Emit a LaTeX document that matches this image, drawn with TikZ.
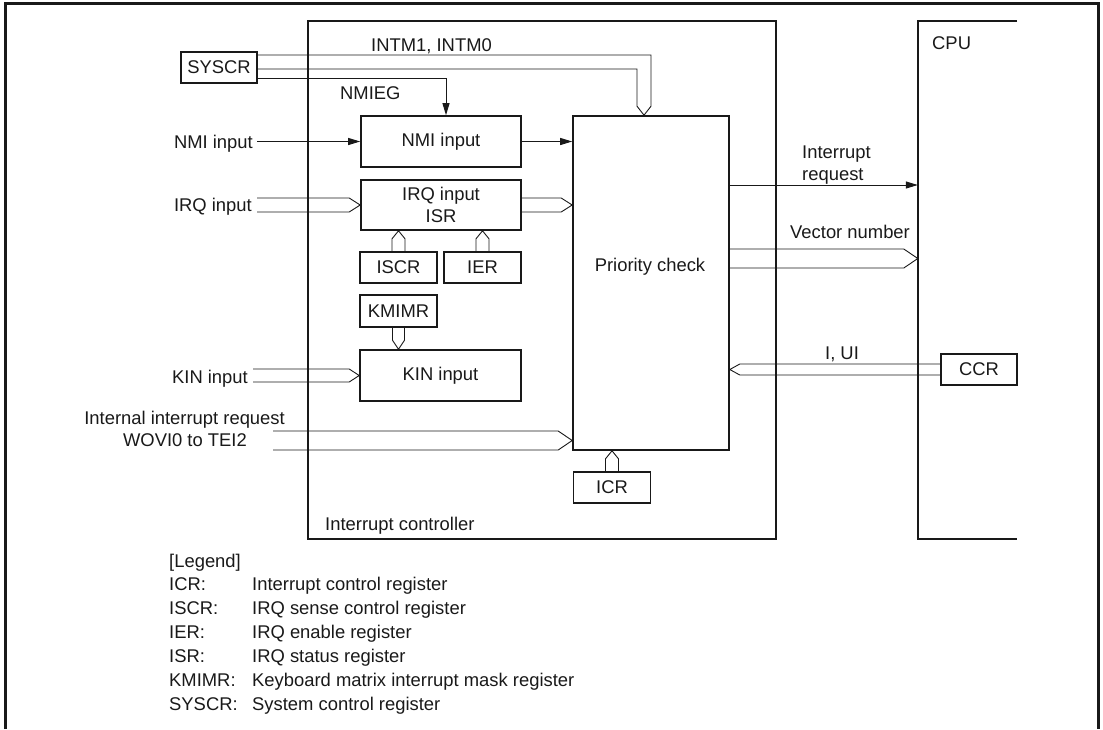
\documentclass[tikz,border=0pt]{standalone}
\usepackage{fontspec}
\setmainfont{Liberation Sans}
\usetikzlibrary{calc,arrows.meta}
\newcommand\busR[4]{\draw[bus] let \p1=(#1), \p2=(#2) in (\x1,\y2+#3) -- (\x2-#4,\y2+#3) -- (\x2,\y2) -- (\x2-#4,\y2-#3) -- (\x1,\y2-#3);}
\newcommand\busL[4]{\draw[bus] let \p1=(#1), \p2=(#2) in (\x1,\y2+#3) -- (\x2+#4,\y2+#3) -- (\x2,\y2) -- (\x2+#4,\y2-#3) -- (\x1,\y2-#3);}
\newcommand\busU[4]{\draw[bus] let \p1=(#1), \p2=(#2) in (\x2-#3,\y1) -- (\x2-#3,\y2-#4) -- (\x2,\y2) -- (\x2+#3,\y2-#4) -- (\x2+#3,\y1);}
\newcommand\busD[4]{\draw[bus] let \p1=(#1), \p2=(#2) in (\x2-#3,\y1) -- (\x2-#3,\y2+#4) -- (\x2,\y2) -- (\x2+#3,\y2+#4) -- (\x2+#3,\y1);}
\begin{document}
\begin{tikzpicture}[x=1pt,y=-1pt,
  every node/.style={font=\fontsize{18.4}{22}\selectfont, inner sep=0pt, text=black!90},
  box/.style={draw=black!90, line width=1.6pt, align=center},
  bus/.style={draw=black!90, line width=0.9pt, line join=miter},
  arr/.style={draw=black!90, line width=1pt, -{Triangle[length=12pt,width=7pt]}},
  lbl/.style={anchor=base west},
  rlbl/.style={anchor=base east}]
\useasboundingbox (0,0) rectangle (1103,729);
% outer frame
\draw[line width=3pt, black!90] (5,729) -- (5,3) -- (1098,3) -- (1098,729);
% helper coordinates
\coordinate (c446) at (446,0);
\coordinate (c644) at (644,0);
\coordinate (c185) at (0,185);
\coordinate (c258) at (0,258.5);
\coordinate (c440) at (0,440.5);
\coordinate (nmiin) at (257,141.5);
\coordinate (irqin) at (257,205);
\coordinate (kinin) at (253,375.5);
\coordinate (intin) at (273,440.5);
% interrupt controller
\node[box, minimum width=468pt, minimum height=518pt] (ctrl) at (542,280) {};
\node[lbl] (ctrllbl) at (325,530.5) {Interrupt controller};
% CPU
\node[minimum width=99pt, minimum height=518pt] (cpu) at (967.5,280) {};
\draw[line width=1.6pt, black!90] (cpu.north east) -- (cpu.north west) -- (cpu.south west) -- (cpu.south east);
\node[lbl] (cpulbl) at (932,49.5) {CPU};
% boxes
\node[box, minimum width=76pt, minimum height=31pt] (syscr) at (219,67.5) {SYSCR};
\node[box, minimum width=160pt, minimum height=51pt] (nmi) at (441,141.5) {NMI input};
\node[box, minimum width=160pt, minimum height=50pt] (irq) at (441,205) {IRQ input\\ISR};
\node[box, minimum width=77pt, minimum height=31pt] (iscr) at (398.5,267.5) {ISCR};
\node[box, minimum width=77pt, minimum height=31pt] (ier) at (482.5,267.5) {IER};
\node[box, minimum width=77pt, minimum height=32pt] (kmimr) at (398.5,311) {KMIMR};
\node[box, minimum width=161pt, minimum height=51pt] (kin) at (440.5,375.5) {KIN input};
\node[box, minimum width=156pt, minimum height=334pt] (prio) at (651,283) {};
\node (priolbl) at (650,267) {Priority check};
\node[box, minimum width=77pt, minimum height=31pt] (icr) at (612,487.5) {ICR};
\node[box, minimum width=76pt, minimum height=31pt] (ccr) at (979,369.5) {CCR};
% left labels
\node[rlbl] (nmilbl) at (253,148) {NMI input};
\node[rlbl] (irqlbl) at (252,211.5) {IRQ input};
\node[rlbl] (kinlbl) at (248,383) {KIN input};
\node[rlbl] (intlbl1) at (285,424.5) {Internal interrupt request};
\node[rlbl] (intlbl2) at (247,446.5) {WOVI0 to TEI2};
% SYSCR connections
\node[lbl] (intmlbl) at (371,51.5) {INTM1, INTM0};
\node[lbl] (nmieglbl) at (340,99.5) {NMIEG};
\draw[bus] let \p1=(syscr.east), \p2=(prio.north -| c644) in
  (\x1,\y1+12.5pt) -- (\x2+7pt,\y1+12.5pt) -- (\x2+7pt,\y2+9pt) -- (\x2,\y2)
  -- (\x2-7pt,\y2+9pt) -- (\x2-7pt,\y1-1.5pt) -- (\x1,\y1-1.5pt);
\draw[arr] let \p1=(syscr.east), \p2=(nmi.north -| c446) in
  (\x1,\y1-10.5pt) -- (\x2,\y1-10.5pt) -- (\x2,\y2);
% inputs
\draw[arr] (nmiin) -- (nmi.west);
\draw[arr] (nmi.east) -- (nmi.east -| prio.west);
\busR{irqin}{irq.west}{7pt}{11pt}
\busR{irq.east}{irq.east -| prio.west}{7pt}{11pt}
\busU{iscr.north}{irq.south -| iscr.north}{6.5pt}{8pt}
\busU{ier.north}{irq.south -| ier.north}{6.5pt}{8pt}
\busD{kmimr.south}{kin.north -| kmimr.south}{6pt}{9pt}
\busR{kinin}{kin.west}{6.5pt}{10pt}
\busR{intin}{prio.west |- c440}{9.5pt}{14pt}
\busU{icr.north}{prio.south -| icr.north}{6.5pt}{8pt}
% outputs to CPU
\node[lbl, align=left] (irqreq) at (802,180) {Interrupt\\request};
\draw[arr] (prio.east |- c185) -- (cpu.west |- c185);
\node[lbl] (veclbl) at (790,238.5) {Vector number};
\busR{prio.east |- c258}{cpu.west |- c258}{9.5pt}{14pt}
\node[anchor=base] (iuilbl) at (842,359.5) {I, UI};
\busL{ccr.west}{prio.east |- ccr.west}{5.5pt}{10pt}
% legend
\node[lbl] (leg) at (169,567.5) {[Legend]};
\node[lbl] (k1) at (169,590) {ICR:};
\node[lbl] (v1) at (252,590) {Interrupt control register};
\node[lbl] (k2) at (169,614) {ISCR:};
\node[lbl] (v2) at (252,614) {IRQ sense control register};
\node[lbl] (k3) at (169,638) {IER:};
\node[lbl] (v3) at (252,638) {IRQ enable register};
\node[lbl] (k4) at (169,662) {ISR:};
\node[lbl] (v4) at (252,662) {IRQ status register};
\node[lbl] (k5) at (169,686) {KMIMR:};
\node[lbl] (v5) at (252,686) {Keyboard matrix interrupt mask register};
\node[lbl] (k6) at (169,710) {SYSCR:};
\node[lbl] (v6) at (252,710) {System control register};
\end{tikzpicture}
\end{document}
